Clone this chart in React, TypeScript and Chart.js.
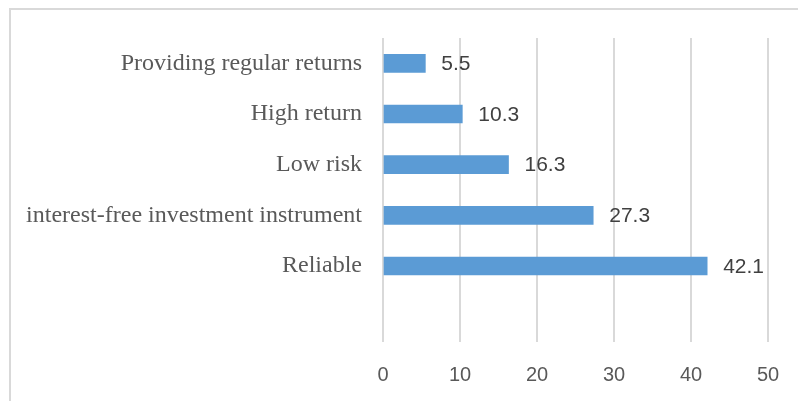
import React, { useEffect, useRef } from "react";
import { Chart, registerables } from "chart.js";

Chart.register(...registerables);

const categories = [
  "Providing regular returns",
  "High return",
  "Low risk",
  "interest-free investment instrument",
  "Reliable",
  "",
];
const values: (number | null)[] = [5.5, 10.3, 16.3, 27.3, 42.1, null];
const xTicks = [0, 10, 20, 30, 40, 50];

const valueLabelPlugin = {
  id: "valueLabels",
  afterDatasetsDraw(chart: any) {
    const ctx = chart.ctx;
    const meta = chart.getDatasetMeta(0);
    ctx.save();
    ctx.font = "21px 'Liberation Sans', Arial, sans-serif";
    ctx.fillStyle = "#404040";
    ctx.textAlign = "left";
    ctx.textBaseline = "middle";
    meta.data.forEach((bar: any, i: number) => {
      const v = values[i];
      if (v === null || v === undefined) return;
      ctx.fillText(String(v), bar.x + 16, bar.y + 1);
    });
    ctx.restore();
  },
};

export default function App() {
  const canvasRef = useRef<HTMLCanvasElement | null>(null);

  useEffect(() => {
    if (!canvasRef.current) return;
    const chart = new Chart(canvasRef.current, {
      type: "bar",
      data: {
        labels: categories,
        datasets: [
          {
            data: values as any,
            backgroundColor: "#5B9BD5",
            borderWidth: 0,
            barThickness: 18,
          },
        ],
      },
      options: {
        indexAxis: "y",
        animation: false,
        responsive: false,
        maintainAspectRatio: false,
        layout: { padding: { top: 38, right: 30, left: 0, bottom: 0 } },
        plugins: {
          legend: { display: false },
          tooltip: { enabled: false },
        },
        scales: {
          x: {
            min: 0,
            max: 50,
            afterBuildTicks: (scale: any) => {
              scale.ticks = xTicks.map((v) => ({ value: v }));
            },
            afterFit: (scale: any) => {
              scale.height = 59;
              scale.paddingLeft = 0;
              scale.paddingRight = 0;
            },
            grid: {
              color: "#d9d9d9",
              lineWidth: 2,
              drawTicks: false,
            },
            border: { display: false },
            ticks: {
              padding: 21,
              color: "#595959",
              maxRotation: 0,
              font: { family: "'Liberation Sans', Arial, sans-serif", size: 20 },
            },
          },
          y: {
            afterFit: (scale: any) => {
              scale.width = 383;
            },
            grid: { display: false, drawTicks: false },
            border: { display: false },
            ticks: {
              padding: 21,
              color: "#595959",
              autoSkip: false,
              font: { family: "'Liberation Serif', 'Times New Roman', serif", size: 24 },
            },
          },
        },
      },
      plugins: [valueLabelPlugin],
    });
    return () => chart.destroy();
  }, []);

  return (
    <div
      style={{
        position: "fixed",
        left: 0,
        top: 0,
        width: 798,
        height: 401,
        background: "#ffffff",
      }}
    >
      <div
        style={{
          position: "absolute",
          left: 9,
          top: 8,
          right: 0,
          bottom: 0,
          borderTop: "2px solid #d9d9d9",
          borderLeft: "2px solid #d9d9d9",
        }}
      />
      <canvas
        ref={canvasRef}
        width={798}
        height={401}
        style={{ position: "absolute", left: 0, top: 0, width: 798, height: 401 }}
      />
    </div>
  );
}
